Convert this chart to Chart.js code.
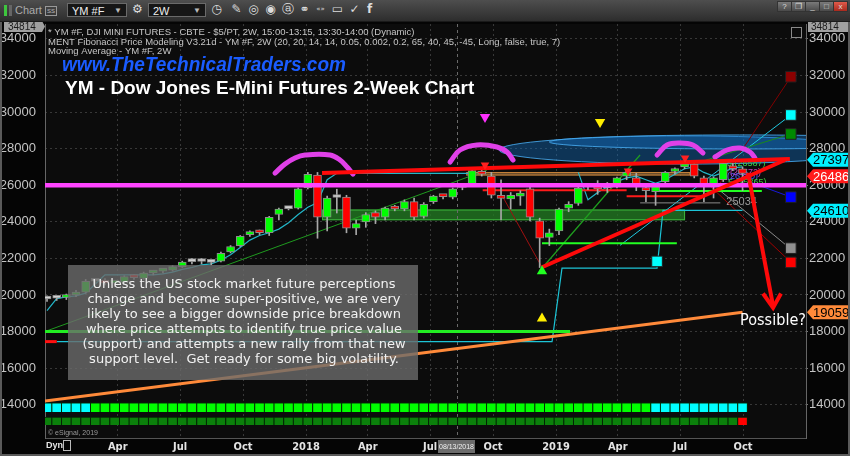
<!DOCTYPE html>
<html>
<head>
<meta charset="utf-8">
<script src="https://cdn.jsdelivr.net/npm/chart.js@4.4.0/dist/chart.umd.min.js"></script>
<style>
html, body { margin: 0; padding: 0; background: #0b0b0b; }
#wrap { position: relative; width: 850px; height: 456px; overflow: hidden; }
#chart { position: absolute; left: 0; top: 0; }
#bar { position: absolute; left: 0; top: 0; width: 850px; height: 21px; background: linear-gradient(#4e4e4e, #2d2d2d); border-bottom: 1px solid #1a1a1a; font-family: "Liberation Sans", Arial, sans-serif; color: #cfcfcf; }
#bar .a { position: absolute; top: 0; height: 21px; line-height: 21px; font-size: 11px; }
#bar .dd { position: absolute; top: 3px; height: 14px; line-height: 14px; background: #161616; border: 1px solid #6a6a6a; font-size: 11px; color: #eee; padding-left: 4px; box-sizing: border-box; }
#bar .dd b { position: absolute; right: 4px; top: 0; font-size: 8px; color: #bbb; }
#bar .ic { position: absolute; top: 2px; width: 15px; height: 15px; line-height: 15px; text-align: center; font-family: "DejaVu Sans", sans-serif; font-size: 12px; color: #ddd; }
#bar .w { position: absolute; top: 1px; width: 13px; height: 9px; line-height: 9px; text-align: center; font-size: 8px; color: #ddd; background: linear-gradient(#7a7a7a, #4a4a4a); border: 1px solid #333; }
</style>
</head>
<body>
<div id="wrap">
<canvas id="chart" width="850" height="456"></canvas>
<div id="bar">
  <span class="a" style="left:4px;top:5px;width:3px;height:11px;background:#3ec63e;"></span>
  <span class="a" style="left:9px;top:5px;width:3px;height:11px;background:#666;"></span>
  <span class="a" style="left:15px;color:#aaa;">Chart</span>
  <span class="a" style="left:45px;top:6px;height:8px;line-height:8px;font-size:6px;border:1px solid #999;padding:0 1px;color:#bbb;">SS</span>
  <div class="dd" style="left:67px;width:60px;">YM #F<b>▼</b></div>
  <div class="ic" style="left:130px;">⚙</div>
  <div class="dd" style="left:148px;width:58px;">2W<b>▼</b></div>
  <div class="ic" style="left:209px;">◷</div>
  <div class="ic" style="left:229px;">✎</div>
  <div class="ic" style="left:246px;">◎</div>
  <div class="ic" style="left:263px;">◉</div>
  <div class="ic" style="left:280px;">ⓐ</div>
  <div class="ic" style="left:297px;">⚭</div>
  <div class="ic" style="left:313px;font-size:7px;">«»</div>
  <div class="ic" style="left:330px;">▭</div>
  <div class="ic" style="left:347px;">✓</div>
  <div class="ic" style="left:362px;font-weight:bold;">f</div>
  <div class="w" style="left:777px;">?</div>
  <div class="w" style="left:791px;">❐</div>
  <div class="w" style="left:805px;">_</div>
  <div class="w" style="left:819px;">□</div>
  <div class="w" style="left:833px;background:linear-gradient(#e05a4a,#a82a1e);">x</div>
</div>
</div>
<script>
// 2-week YM candles, Dec 2016 .. Sep 2019 (bar index 0..72)
const opens = [19780, 19820, 19860, 20000, 20150, 20750, 20800, 20650, 20700, 21000,
  20900, 21200, 21300, 21350, 21550, 21820, 21850, 21800, 21850, 22350,
  22700, 23300, 23450, 23400, 24400, 24720, 24750, 25850, 26550, 24250,
  25350, 25350, 23650, 24000, 24500, 24250, 24800, 24700, 25100, 24300,
  25100, 25430, 25350, 25880, 26000, 26750, 26500, 25350, 25250, 25400,
  25800, 24050, 23150, 23500, 24750, 25000, 25920, 26100, 25850, 26000,
  26500, 26400, 25800, 25650, 26200, 26750, 27000, 27150, 26400, 26000,
  26300, 27050, 26900];
const highs = [19950, 19950, 20050, 20250, 20850, 20900, 20900, 20800, 21050, 21100,
  21250, 21350, 21450, 21600, 21850, 22000, 22000, 21950, 22350, 22700,
  23250, 23500, 23550, 24300, 24750, 24800, 25850, 26700, 26700, 25400,
  25780, 25450, 24100, 24500, 24600, 24800, 24900, 25200, 25300, 25050,
  25450, 25500, 25850, 26000, 26850, 26950, 26700, 26300, 25600, 25700,
  26100, 24200, 23600, 24750, 25100, 25950, 26100, 26250, 26150, 26450,
  26800, 26650, 25950, 26100, 26750, 26950, 27250, 27200, 26500, 26450,
  27300, 27200, 27000];
const lows = [19650, 19700, 19750, 19900, 20100, 20600, 20550, 20450, 20600, 20850,
  20850, 21100, 21200, 21300, 21500, 21700, 21700, 21650, 21800, 22300,
  22650, 23200, 23300, 23250, 24100, 24650, 24700, 25800, 23100, 23500,
  24480, 23400, 23300, 23700, 23900, 24100, 24600, 24600, 24100, 24200,
  25000, 25250, 25250, 25750, 25950, 26500, 25300, 24100, 24700, 24900,
  24050, 21500, 22700, 23300, 24550, 24900, 25750, 25500, 25600, 25850,
  26300, 25700, 25100, 24900, 26100, 26600, 26900, 26400, 25100, 25300,
  26200, 26800, 25700];
const closes = [19810, 19850, 20000, 20150, 20750, 20770, 20650, 20700, 21000, 20950,
  21200, 21300, 21400, 21550, 21800, 21850, 21830, 21780, 22280, 22650,
  23200, 23420, 23400, 24250, 24700, 24760, 25800, 26600, 24250, 25300,
  25330, 23650, 23900, 24400, 24250, 24750, 24700, 25100, 24250, 24950,
  25400, 25380, 25800, 25920, 26800, 26600, 25450, 25280, 25450, 25500,
  24250, 23100, 23400, 24700, 24950, 25850, 25950, 25800, 25880, 26400,
  26700, 26000, 25700, 26000, 26700, 26900, 27150, 26500, 25950, 26400,
  27200, 26900, 26650];
const movingAvg = [19150, 19800, 19900, 19950, 20100, 20600, 21100, 21100, 21100, 21100,
  21100, 21100, 21150, 21250, 21400, 21500, 21650, 21700, 21900, 22200,
  22600, 23000, 23250, 23400, 23600, 23950, 24400, 24800, 25050, 26300,
  26650, 26650, 26650, 26650, 26650, 26650, 26650, 26650, 26650, 26650,
  26650, 26650, 26650, 26650, 26650, null, null, null, null, null,
  null, null, null, null, null, 26700, 25200, 25600, 25900, 26200,
  26400, 26500, 26300, 26100, 26300, 26600, 26900, 27000, 26700, 26500,
  26700, 26950, 27000];

// signal rows under the price (C = cyan, G = green, D = dark green, R = red)
const topRowState = 'CCCCCGGGGGGGGGGGGGGGGGGGGGGGGGGGGGGGGGGGGGGGGGGGGGGGGGGGGGGGGGGCCCCCCCCC'.split('');
const bottomRowState = 'DDDDDDDDDDDDDDDDDDDDDDDDDDDDDDDDDDDDDDDDDDDDDDDDDDDDDDDDDDDDDDDDDDDDDDDDR'.split('');
const topRowBand = [13600, 14100];
const bottomRowBand = [12890, 13330];

// axes
const xTickPos = [7.32, 13.77, 20.29, 26.81, 33.2, 39.65, 46.17, 52.69, 59.08, 65.53, 72.05];
const xTickLabels = ['Apr', 'Jul', 'Oct', '2018', 'Apr', 'Jul', 'Oct', '2019', 'Apr', 'Jul', 'Oct'];
const yTicks = [14000, 16000, 18000, 20000, 22000, 24000, 26000, 28000, 30000, 32000, 34000];
const xRange = [-0.21, 78.57];
const yRange = [12180, 34814];

// drawn studies, [bar index, price]
const magentaLevel = [[-0.21, 26000], [78.57, 26000]];
const arc1 = [[23.6, 26664], [24.64, 27157], [25.67, 27487], [26.71, 27652], [29.3, 27652], [30.33, 27377], [31.06, 26993], [31.68, 26609]];
const arc2 = [[41.72, 27267], [42.75, 27925], [44.51, 28200], [46.58, 28090], [47.62, 27816], [48.24, 27377]];
const arc3 = [[63.15, 27652], [64.18, 28200], [65.53, 28310], [66.87, 28200], [67.91, 27761]];
const arc4 = [[69.15, 27542], [70.39, 27925], [71.74, 28035], [72.77, 27816], [73.29, 27487]];
const redTopLine = [[28.47, 26664], [76.9, 27430]];
const redRiseLine = [[51.24, 21517], [76.4, 27380]];
const arrowShaft = [[72.57, 26670], [75.16, 19400]];
const arrowHead = [[74.12, 20080], [75.16, 19300], [75.98, 20080]];
const redLevelA = [[45.1, 25730], [60.0, 25730]];
const redLevelB = [[60.0, 25400], [68.1, 25400]];
const greenLevelA = [[51.24, 22823], [65.2, 22823]];
const greenLevelB = [[63.1, 25680], [74.0, 25680]];
const grayLevel = [[61.4, 25034], [69.7, 25034]];
const support18k = [[-0.21, 18000], [54.14, 18000]];
const redStub = [[-0.21, 17450], [1.0, 17450]];
const orangeTrend = [[-0.21, 14208], [72.0, 19059]];
const cyanStep = [[1.0, 17450], [52.28, 17450], [53.31, 21470], [63.15, 21470], [63.77, 24630], [72.0, 24630]];
const greenDiag = [[-0.21, 18000], [45.55, 26830]];
const greenFromLow = [[51.24, 21460], [61.39, 27652]];
const greenToBox = [[66.56, 27103], [77.02, 28804]];
const cyanToBox = [[59.32, 22713], [77.02, 29845]];
const darkRedToTop = [[69.67, 26116], [77.02, 31932]];
const blueToBox = [[72.77, 26170], [77.02, 25350]];
const grayToBox = [[69.36, 25841], [76.91, 22550]];
const darkRedToLow = [[68.32, 26116], [76.91, 21836]];
const darkRedDrop = [[47.2, 25350], [51.24, 21510]];
const targetBoxes = [[77.0, 31930], [77.0, 29840], [77.0, 28800], [77.0, 25350], [77.0, 22560], [77.0, 21780], [63.15, 21835]];
const downMarks = [[45.34, 29730], [57.25, 29460], [45.34, 27100], [60.15, 26780], [66.05, 27485]];
const upMarks = [[51.24, 18710], [51.24, 21300]];
const greenZone = [28.47, 66.05, 24085, 24672];
const orangeBand = [43.4, 66.6, 26530, 26720];
const ellipseA = [66.0, 27925, 19.2, 770];
const ellipseB = [71.7, 28365, 19.7, 385];
const fibLabels = [[70.4, 27212, '5 (26587)'], [70.7, 26720, '(26572)'], [70.4, 26450, '(26210)'], [70.5, 26170, '5 (25865)']];
const priceTags = [[27397, '27397'], [26486, '26486'], [24610, '24610'], [19059, '19059']];
const cursorIdx = 42.44;

const idx = opens.map((_, i) => i);
const pts = arr => arr.map(p => ({ x: p[0], y: p[1] }));

function line(arr, color, width, order, more) {
  return Object.assign({
    type: 'line', data: pts(arr), borderColor: color, borderWidth: width,
    pointRadius: 0, fill: false, tension: 0, order: order, yAxisID: 'y'
  }, more || {});
}

const candleColor = idx.map(i => {
  const d = closes[i] - opens[i];
  if (d > 45) return '#00ff00';
  if (d < -45) return '#ff0000';
  return '#d2d2d2';
});
const topColors = topRowState.map(s => s === 'C' ? '#00ffff' : '#00ff00');
const bottomColors = bottomRowState.map(s => s === 'R' ? '#ff0000' : '#0b800b');

const overlay = {
  id: 'overlay',
  beforeDraw(chart) {
    const { ctx, width, height, chartArea: a } = chart;
    ctx.save();
    ctx.fillStyle = '#050505';
    ctx.fillRect(0, 0, width, height);
    ctx.fillStyle = '#0c0c0c';
    ctx.fillRect(a.left, a.top, a.right - a.left, a.bottom - a.top);
    ctx.restore();
  },
  beforeDatasetsDraw(chart) {
    const { ctx, chartArea: a, scales: { x, y } } = chart;
    ctx.save();
    ctx.beginPath();
    ctx.rect(a.left, a.top, a.right - a.left, a.bottom - a.top);
    ctx.clip();

    const zone = (z, fill, stroke) => {
      const x0 = x.getPixelForValue(z[0]), x1 = x.getPixelForValue(z[1]);
      const y0 = y.getPixelForValue(z[3]), y1 = y.getPixelForValue(z[2]);
      ctx.fillStyle = fill;
      ctx.fillRect(x0, y0, x1 - x0, y1 - y0);
      ctx.strokeStyle = stroke;
      ctx.lineWidth = 1;
      ctx.strokeRect(x0 + 0.5, y0 + 0.5, x1 - x0 - 1, y1 - y0 - 1);
    };
    zone(greenZone, 'rgba(34,120,34,0.8)', '#3cb43c');
    zone(orangeBand, 'rgba(130,95,55,0.75)', '#c8823a');

    [ellipseA, ellipseB].forEach(e => {
      const cx = x.getPixelForValue(e[0]);
      const cy = y.getPixelForValue(e[1]);
      const rx = x.getPixelForValue(e[0] + e[2]) - cx;
      const ry = cy - y.getPixelForValue(e[1] + e[3]);
      ctx.beginPath();
      ctx.ellipse(cx, cy, rx, ry, 0, 0, Math.PI * 2);
      ctx.fillStyle = 'rgba(20,110,190,0.42)';
      ctx.fill();
      ctx.strokeStyle = 'rgba(70,170,240,0.85)';
      ctx.lineWidth = 1;
      ctx.stroke();
    });

    const cx = Math.round(x.getPixelForValue(cursorIdx)) + 0.5;
    ctx.strokeStyle = '#6a6a6a';
    ctx.setLineDash([3, 3]);
    ctx.beginPath();
    ctx.moveTo(cx, a.top);
    ctx.lineTo(cx, a.bottom);
    ctx.stroke();
    ctx.setLineDash([]);

    const fibColors = ['#3fcf3f', '#d040c0', '#5a5aff', '#3fcf3f'];
    ctx.font = '9px "Liberation Sans", Arial, sans-serif';
    ctx.textBaseline = 'middle';
    ctx.textAlign = 'left';
    fibLabels.forEach((f, i) => {
      ctx.fillStyle = fibColors[i];
      ctx.fillText(f[2], x.getPixelForValue(f[0]), y.getPixelForValue(f[1]));
    });
    ctx.fillStyle = '#9a9a9a';
    ctx.font = '11px "Liberation Sans", Arial, sans-serif';
    ctx.fillText('25034', x.getPixelForValue(grayLevel[1][0]) + 6, y.getPixelForValue(grayLevel[1][1]) - 1);
    ctx.restore();
  },
  afterDatasetsDraw(chart) {
    const { ctx, chartArea: a, scales: { x, y } } = chart;
    ctx.save();

    // header lines
    ctx.fillStyle = '#c6c6c6';
    ctx.font = '9.5px "Liberation Sans", Arial, sans-serif';
    ctx.textAlign = 'left';
    ctx.textBaseline = 'middle';
    ctx.fillText('* YM #F, DJI MINI FUTURES - CBTE - $5/PT, 2W, 15:00-13:15, 13:30-14:00 (Dynamic)', 48, 32);
    ctx.fillText('MENT Fibonacci Price Modeling V3.21d - YM #F, 2W (20, 20, 14, 14, 0.05, 0.002, 0.2, 65, 40, 45, -45, Long, false, true, 7)', 48, 42);
    ctx.fillText('Moving Average - YM #F, 2W', 48, 51);

    // titles
    ctx.fillStyle = '#1a5cff';
    ctx.font = 'italic bold 20px "Liberation Sans", Arial, sans-serif';
    ctx.fillText('www.TheTechnicalTraders.com', 62, 65, 284);
    ctx.fillStyle = '#ffffff';
    ctx.font = 'bold 19px "Liberation Sans", Arial, sans-serif';
    ctx.fillText('YM - Dow Jones E-Mini Futures 2-Week Chart', 65, 89, 410);

    // comment box
    ctx.fillStyle = 'rgba(108,108,108,0.8)';
    ctx.fillRect(68, 265, 350, 115);
    const lines = [
      ['Unless the US stock market future perceptions', 308],
      ['change and become super-positive, we are very', 317],
      ['likely to see a bigger downside price breakdown', 317],
      ['where price attempts to identify true price value', 316],
      ['(support) and attempts a new rally from that new', 329],
      ['support level.  Get ready for some big volatility.', 312]
    ];
    ctx.fillStyle = '#f2f2f2';
    ctx.font = '13px "DejaVu Sans", Verdana, sans-serif';
    ctx.textAlign = 'center';
    lines.forEach((l, i) => ctx.fillText(l[0], 244, 285 + i * 15, l[1]));

    // annotation
    ctx.textAlign = 'left';
    ctx.fillStyle = '#ffffff';
    ctx.font = '15px "DejaVu Sans", Verdana, sans-serif';
    ctx.fillText('Possible?', 740, 321, 66);

    // right price tags
    const tagStyle = {
      '27397': ['#00f0ff', '#000'], '26486': ['#ff1a1a', '#fff'],
      '24610': ['#00f0ff', '#000'], '19059': ['#ff8a3a', '#000']
    };
    ctx.font = '13px "Liberation Sans", Arial, sans-serif';
    priceTags.forEach(t => {
      const py = y.getPixelForValue(t[0]);
      const x0 = a.right + 1;
      ctx.fillStyle = tagStyle[t[1]][0];
      ctx.beginPath();
      ctx.moveTo(x0, py);
      ctx.lineTo(x0 + 6, py - 7);
      ctx.lineTo(849, py - 7);
      ctx.lineTo(849, py + 7);
      ctx.lineTo(x0 + 6, py + 7);
      ctx.closePath();
      ctx.fill();
      ctx.fillStyle = tagStyle[t[1]][1];
      ctx.fillText(t[1], x0 + 6, py + 1);
    });

    // top value tags
    const topY = y.getPixelForValue(yRange[1]);
    ctx.fillStyle = '#a0a0a0';
    ctx.fillRect(a.right + 2, topY - 3, 42, 11);
    ctx.fillRect(4, topY - 3, 38, 11);
    ctx.beginPath();
    ctx.moveTo(42, topY - 3); ctx.lineTo(45, topY + 2.5); ctx.lineTo(42, topY + 8); ctx.fill();
    ctx.fillStyle = '#1a1a1a';
    ctx.font = '10px "Liberation Sans", Arial, sans-serif';
    ctx.fillText('34814', a.right + 5, topY + 3);
    ctx.fillText('34814', 8, topY + 3);
    ctx.strokeStyle = '#8a8a8a';
    ctx.strokeRect(a.right - 14.5, 27.5, 10, 10);

    // footer bits
    ctx.fillStyle = '#9a9a9a';
    ctx.font = '7px "Liberation Sans", Arial, sans-serif';
    ctx.fillText('© eSignal, 2019', 48, 433);
    ctx.fillStyle = '#e6e6e6';
    ctx.font = 'bold 9px "Liberation Sans Narrow", "Liberation Sans", Arial, sans-serif';
    ctx.fillText('Dyn', 46, 446);
    ctx.strokeStyle = '#bbb';
    ctx.strokeRect(63.5, 440.5, 7, 10);
    const cx = x.getPixelForValue(cursorIdx);
    ctx.fillStyle = '#6c6c6c';
    ctx.fillRect(cx - 19, 440, 37, 13);
    ctx.fillStyle = '#f0f0f0';
    ctx.font = '8px "Liberation Sans Narrow", "Liberation Sans", Arial, sans-serif';
    ctx.textAlign = 'center';
    ctx.fillText('08/13/2018', cx - 0.5, 447, 35);

    // window frame
    ctx.fillStyle = '#5a5a5a';
    ctx.fillRect(0, 21, 2, 435);
    ctx.fillRect(848, 21, 2, 435);
    ctx.fillRect(0, 454, 850, 2);
    ctx.restore();
  }
};

new Chart(document.getElementById('chart'), {
  type: 'bar',
  data: {
    datasets: [
      line(cyanStep, '#1cc4d6', 1.2, 45),
      { type: 'line', data: idx.map(i => ({ x: i, y: movingAvg[i] })), borderColor: '#22b6c8', borderWidth: 1.2, pointRadius: 0, tension: 0, order: 44, yAxisID: 'y' },
      line(greenDiag, '#1f9a1f', 1, 50),
      line(greenFromLow, '#1fa01f', 1.2, 50),
      line(greenToBox, '#1a8a1a', 1, 50),
      line(cyanToBox, '#20c8e0', 1, 50),
      line(darkRedToTop, '#800000', 1, 50),
      line(blueToBox, '#1818d8', 1, 50),
      line(grayToBox, '#8a8a8a', 1, 50),
      line(darkRedToLow, '#a00000', 1, 50),
      line(darkRedDrop, '#a01010', 1, 50),
      line(support18k, '#22ee22', 3, 40),
      line(redStub, '#ff1010', 3, 40),
      line(orangeTrend, '#ff8a3a', 3, 40),
      line(redLevelA, '#ff1a1a', 2, 35),
      line(redLevelB, '#ff1a1a', 2, 35),
      line(greenLevelA, '#22ff22', 2, 35),
      line(greenLevelB, '#22ff22', 2, 35),
      line(grayLevel, '#8a8a8a', 1, 35),
      {
        type: 'bar', data: idx.map(i => ({ x: i, y: [lows[i], highs[i]] })),
        backgroundColor: '#a8a8a8', barThickness: 1, grouped: false, order: 30, yAxisID: 'y'
      },
      {
        type: 'bar', data: idx.map(i => ({ x: i, y: [opens[i], closes[i]] })),
        backgroundColor: candleColor, borderColor: '#8c8c8c', borderWidth: 1, borderSkipped: false,
        barThickness: 8, minBarLength: 3, grouped: false, order: 25, yAxisID: 'y'
      },
      {
        type: 'bar', data: idx.map(i => ({ x: i, y: topRowBand })),
        backgroundColor: topColors, borderColor: '#062e06', borderWidth: 1, barThickness: 10, grouped: false, order: 25, yAxisID: 'y'
      },
      {
        type: 'bar', data: idx.map(i => ({ x: i, y: bottomRowBand })),
        backgroundColor: bottomColors, borderColor: '#042204', borderWidth: 1, barThickness: 10, grouped: false, order: 25, yAxisID: 'y'
      },
      line(magentaLevel, '#ff44ff', 4.5, 20),
      line(arc1, '#e040e8', 5, 12, { tension: 0.4, borderCapStyle: 'round' }),
      line(arc2, '#e040e8', 5, 12, { tension: 0.4, borderCapStyle: 'round' }),
      line(arc3, '#e040e8', 5, 12, { tension: 0.4, borderCapStyle: 'round' }),
      line(arc4, '#e040e8', 5, 12, { tension: 0.4, borderCapStyle: 'round' }),
      line(redTopLine, '#ff0a0a', 4, 10),
      line(redRiseLine, '#ff0a0a', 4, 10),
      line(arrowShaft, '#ff0a0a', 4, 8),
      line(arrowHead, '#ff0a0a', 4, 8, { borderJoinStyle: 'miter' }),
      {
        type: 'line', data: pts(downMarks), showLine: false, pointStyle: 'triangle', rotation: 180,
        pointRadius: [6, 6, 5, 5, 5], pointBorderWidth: 0,
        pointBackgroundColor: ['#ff30ff', '#ffee00', '#ff2020', '#ff2020', '#ff2020'], order: 5, yAxisID: 'y'
      },
      {
        type: 'line', data: pts(upMarks), showLine: false, pointStyle: 'triangle',
        pointRadius: 6, pointBorderWidth: 0,
        pointBackgroundColor: ['#ffee00', '#22ff22'], order: 5, yAxisID: 'y'
      },
      {
        type: 'line', data: pts(targetBoxes), showLine: false, pointStyle: 'rect',
        pointRadius: 7.5, pointBorderWidth: 1, pointBorderColor: '#202020',
        pointBackgroundColor: ['#8b0000', '#00ffff', '#008a00', '#0000ff', '#909090', '#ff0000', '#00ffff'],
        order: 5, yAxisID: 'y', clip: false
      }
    ]
  },
  options: {
    responsive: false,
    animation: false,
    events: [],
    layout: { padding: { top: 24, left: 0, right: 0, bottom: 0 } },
    plugins: { legend: { display: false }, tooltip: { enabled: false } },
    scales: {
      x: {
        type: 'linear', min: xRange[0], max: xRange[1], offset: false,
        afterFit: s => { s.height = 18; },
        afterBuildTicks: s => { s.ticks = xTickPos.map(v => ({ value: v })); },
        ticks: {
          autoSkip: false, maxRotation: 0, padding: 3, color: '#e4e4e4',
          font: { family: '"Liberation Sans Narrow", "DejaVu Sans Condensed", "Liberation Sans", Arial', size: 11, weight: 'bold' },
          callback: (v, i) => xTickLabels[i]
        },
        grid: { color: '#383838', offset: false, drawTicks: false },
        border: { display: true, color: '#555', dash: [2, 3] }
      },
      y: {
        position: 'right', min: yRange[0], max: yRange[1],
        afterFit: s => { s.width = 44; },
        afterBuildTicks: s => { s.ticks = yTicks.map(v => ({ value: v })); },
        ticks: { color: '#c4c4c4', padding: 1, font: { family: '"Liberation Sans", Arial', size: 13 }, callback: v => String(v) },
        grid: { color: '#383838', tickLength: 2, tickColor: '#777' },
        border: { display: true, color: '#666', dash: [2, 3] }
      },
      yl: {
        position: 'left', min: yRange[0], max: yRange[1],
        afterFit: s => { s.width = 45; },
        afterBuildTicks: s => { s.ticks = yTicks.map(v => ({ value: v })); },
        ticks: { color: '#c4c4c4', padding: 1, font: { family: '"Liberation Sans", Arial', size: 13 }, callback: v => String(v) },
        grid: { display: false },
        border: { display: true, color: '#666' }
      }
    }
  },
  plugins: [overlay]
});
</script>
</body>
</html>
